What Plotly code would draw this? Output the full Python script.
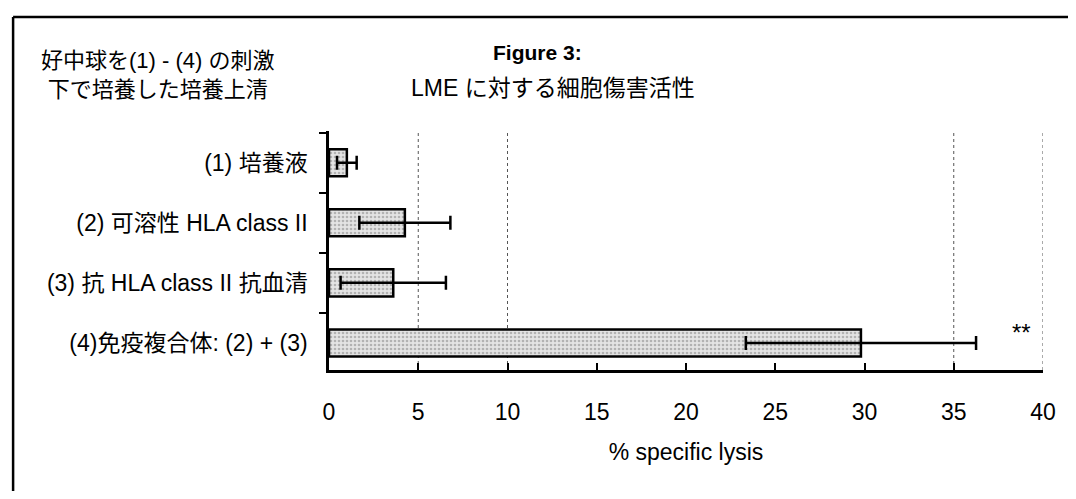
import plotly.graph_objects as go

# Data
categories = ["(1) 培養液", "(2) 可溶性 HLA class II", "(3) 抗 HLA class II 抗血清", "(4)免疫複合体: (2) + (3)"]
lysis = [1.0, 4.25, 3.6, 29.8]
lysis_err = [0.55, 2.55, 2.95, 6.45]
x_ticks = [0, 5, 10, 15, 20, 25, 30, 35, 40]
grid_visible = [5, 10, 35, 40]
signif_label = "**"

FONT = "Liberation Sans, Arial, Noto Sans CJK JP, sans-serif"
FONT_NARROW = "Liberation Sans Narrow, Arial Narrow, Liberation Sans, sans-serif"

# page -> paper helpers (plot area on page: x 329..1050, y 131..370)
def px(x):
    return (x - 329) / 721

def py(y):
    return (370 - y) / 239

fig = go.Figure()
fig.add_trace(go.Bar(
    x=lysis, y=categories, orientation="h", width=0.45,
    marker=dict(color="#dcdcdc", line=dict(color="black", width=2.5),
                pattern=dict(shape=".", fgcolor="#808080", bgcolor="#e4e4e4", size=4, solidity=0.35)),
    error_x=dict(type="data", array=lysis_err, visible=True, color="black", thickness=2.5, width=7),
    showlegend=False,
))

shapes = []
for g in grid_visible:
    shapes.append(dict(type="line", xref="x", yref="paper", x0=g, x1=g, y0=0, y1=1,
                       line=dict(color="#555", width=1, dash="dot"), layer="below"))
# outer frame (top and left edges of the scanned page)
shapes.append(dict(type="line", xref="paper", yref="paper", x0=px(10), x1=px(1080), y0=py(17), y1=py(17),
                   line=dict(color="black", width=2.5)))
shapes.append(dict(type="line", xref="paper", yref="paper", x0=px(10), x1=px(10), y0=py(17), y1=py(520),
                   line=dict(color="black", width=2.5)))

annotations = [
    dict(text="<b>Figure 3:</b>", xref="paper", yref="paper", x=px(540), y=py(52),
         showarrow=False, font=dict(size=21, family=FONT_NARROW, color="black"),
         xanchor="center", yanchor="middle"),
    dict(text="LME に対する細胞傷害活性", xref="paper", yref="paper", x=px(555), y=py(88),
         showarrow=False, font=dict(size=23, family=FONT, color="black"), xanchor="center", yanchor="middle"),
    dict(text="好中球を(1) - (4) の刺激<br>下で培養した培養上清", xref="paper", yref="paper",
         x=px(156), y=py(75), align="center",
         showarrow=False, font=dict(size=22, family=FONT, color="black"), xanchor="center", yanchor="middle"),
    dict(text=signif_label, xref="x", yref="y", x=38.8, y=categories[3], yshift=10,
         showarrow=False, font=dict(size=24, family=FONT, color="black")),
]

fig.update_layout(
    width=1060, height=483,
    margin=dict(l=321, r=18, t=123, b=121),
    paper_bgcolor="white", plot_bgcolor="white",
    font=dict(family=FONT, size=23, color="black"),
    shapes=shapes, annotations=annotations,
    xaxis=dict(range=[0, 40], tickvals=x_ticks, ticks="inside", ticklen=7, tickwidth=2, tickcolor="black",
               showline=True, linecolor="black", linewidth=2.5, showgrid=False, zeroline=False,
               ticklabelstandoff=20, tickfont=dict(size=23),
               title=dict(text="% specific lysis", font=dict(size=23), standoff=20)),
    yaxis=dict(categoryorder="array", categoryarray=categories, range=[3.45, -0.527],
               tickson="boundaries", ticks="outside", ticklen=7, tickwidth=2, tickcolor="black",
               showline=True, linecolor="black", linewidth=2.5, showgrid=False, zeroline=False,
               ticklabelstandoff=14, tickfont=dict(size=23)),
)

fig.write_html("out.html")
